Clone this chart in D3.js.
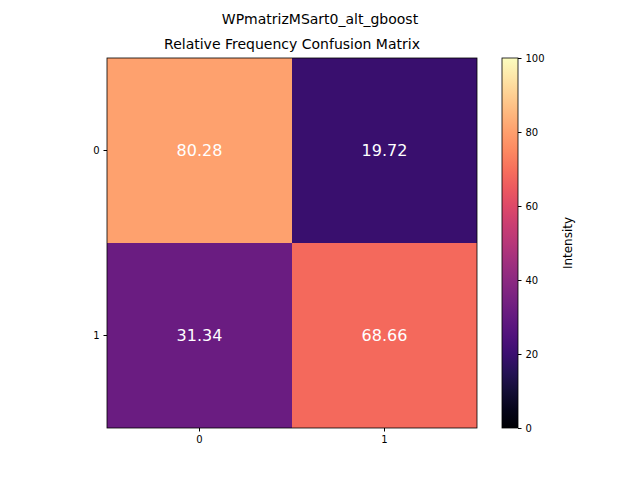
<!DOCTYPE html>
<html><head><meta charset="utf-8">
<script src="https://cdn.jsdelivr.net/npm/d3@7"></script>
<style>body{margin:0;background:#fff}text{font-family:"DejaVu Sans",sans-serif}</style>
</head><body>
<div id="chart"></div>
<script>
// Confusion matrix values (percent)
var classes = ["0", "1"];
var values = [[80.28, 19.72], [31.34, 68.66]];
var cbTicks = [0, 20, 40, 60, 80, 100];

var svg = d3.select("#chart").append("svg")
  .attr("width", 640).attr("height", 480);

var plotLeft = 107, plotTop = 58, size = 370;

var x = d3.scaleBand().domain(classes).range([plotLeft, plotLeft + size]);
var y = d3.scaleBand().domain(classes).range([plotTop, plotTop + size]);
var color = d3.scaleSequential(d3.interpolateMagma).domain([0, 100]);

var cells = [];
values.forEach(function(row, i) {
  row.forEach(function(v, j) { cells.push({r: classes[i], c: classes[j], v: v}); });
});

svg.selectAll("rect.cell").data(cells).enter().append("rect")
  .attr("x", d => x(d.c)).attr("y", d => y(d.r))
  .attr("width", x.bandwidth()).attr("height", y.bandwidth())
  .attr("fill", d => color(d.v));

svg.selectAll("text.val").data(cells).enter().append("text")
  .attr("x", d => x(d.c) + x.bandwidth() / 2)
  .attr("y", d => y(d.r) + y.bandwidth() / 2)
  .attr("dy", "0.35em").attr("text-anchor", "middle")
  .attr("fill", "#fff").style("font-size", "16px")
  .text(d => d.v.toFixed(2));

svg.append("rect").attr("x", plotLeft).attr("y", plotTop)
  .attr("width", size).attr("height", size)
  .attr("fill", "none").attr("stroke", "#000").attr("stroke-width", 0.8);

svg.append("g").attr("transform", `translate(0,${plotTop + size})`)
  .call(d3.axisBottom(x).tickSize(3.5).tickPadding(4))
  .call(g => g.select(".domain").remove())
  .selectAll("text").style("font-size", "10px").style("font-family", "DejaVu Sans");

svg.append("g").attr("transform", `translate(${plotLeft},0)`)
  .call(d3.axisLeft(y).tickSize(3.5).tickPadding(4))
  .call(g => g.select(".domain").remove())
  .selectAll("text").style("font-size", "10px").style("font-family", "DejaVu Sans");

// Colorbar
var cbX = 502, cbW = 16;
var cbY = d3.scaleLinear().domain([0, 100]).range([plotTop + size, plotTop]);
var defs = svg.append("defs");
var grad = defs.append("linearGradient").attr("id", "cb")
  .attr("x1", "0").attr("y1", "1").attr("x2", "0").attr("y2", "0");
d3.range(0, 1.001, 0.05).forEach(function(t) {
  grad.append("stop").attr("offset", t).attr("stop-color", d3.interpolateMagma(t));
});
svg.append("rect").attr("x", cbX).attr("y", plotTop).attr("width", cbW).attr("height", size)
  .attr("fill", "url(#cb)").attr("stroke", "#000").attr("stroke-width", 0.8);
svg.append("g").attr("transform", `translate(${cbX + cbW},0)`)
  .call(d3.axisRight(cbY).tickValues(cbTicks).tickSize(3.5).tickPadding(4))
  .call(g => g.select(".domain").remove())
  .selectAll("text").style("font-size", "10px").style("font-family", "DejaVu Sans");

svg.append("text").attr("transform", "translate(572,243) rotate(-90)")
  .attr("text-anchor", "middle").style("font-size", "12px").text("Intensity");

svg.append("text").attr("x", 320).attr("y", 24).attr("text-anchor", "middle")
  .style("font-size", "14px").text("WPmatrizMSart0_alt_gboost");
svg.append("text").attr("x", 292).attr("y", 49).attr("text-anchor", "middle")
  .style("font-size", "14px").text("Relative Frequency Confusion Matrix");
</script>
</body></html>
